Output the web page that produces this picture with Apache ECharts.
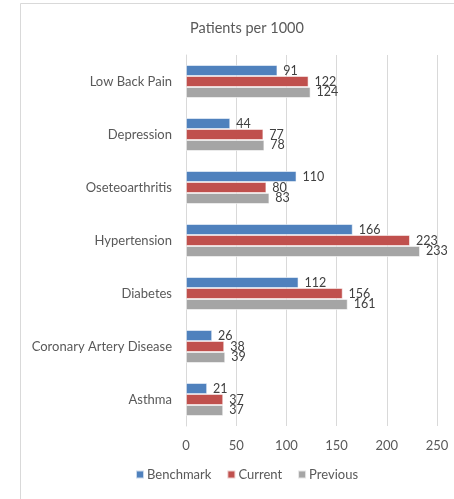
<!DOCTYPE html>
<html>
<head>
<meta charset="utf-8">
<script src="https://cdn.jsdelivr.net/npm/echarts@6/dist/echarts.min.js"></script>
<style>
  html, body { margin: 0; padding: 0; background: #fff; }
  #chart { width: 454px; height: 499px; }
</style>
</head>
<body>
<div id="chart"></div>
<script>
// Conditions, listed top to bottom
const categories = ['Low Back Pain', 'Depression', 'Oseteoarthritis', 'Hypertension', 'Diabetes', 'Coronary Artery Disease', 'Asthma'];
const benchmark = [91, 44, 110, 166, 112, 26, 21];
const current = [122, 77, 80, 223, 156, 38, 37];
const previous = [124, 78, 83, 233, 161, 39, 37];
const seriesNames = ['Benchmark', 'Current', 'Previous'];
const seriesColors = ['#4F81BD', '#C0504D', '#A5A5A5'];

const FONT = 'Lato, "Open Sans", sans-serif';
const chart = echarts.init(document.getElementById('chart'), null, { renderer: 'canvas' });

function barSeries(name, data, color) {
  return {
    name: name,
    type: 'bar',
    data: data,
    barGap: '0%',
    barCategoryGap: '38%',
    itemStyle: { color: color, borderColor: 'rgba(255,255,255,0.7)', borderWidth: 0.8 },
    label: {
      show: true,
      position: 'right',
      distance: 6,
      color: '#404040',
      fontSize: 12.5,
      fontFamily: FONT
    },
    emphasis: { disabled: true }
  };
}

chart.setOption({
  animation: false,
  backgroundColor: '#fff',
  textStyle: { fontFamily: FONT },
  graphic: [{
    type: 'rect',
    shape: { x: 20.5, y: 3.5, width: 460, height: 520 },
    style: { fill: 'none', stroke: '#D9D9D9', lineWidth: 1 },
    silent: true
  }],
  title: {
    text: 'Patients per 1000',
    left: 242,
    textAlign: 'center',
    top: 16,
    textStyle: { fontSize: 14.5, fontWeight: 'normal', color: '#595959', fontFamily: FONT }
  },
  legend: {
    data: seriesNames,
    bottom: 13,
    left: 130,
    itemWidth: 8,
    itemHeight: 8,
    itemGap: 15,
    icon: 'rect',
    textStyle: { fontSize: 13, color: '#595959', fontFamily: FONT, padding: [0, 0, 0, -2] }
  },
  grid: { left: 186, right: 17, top: 55, bottom: 73, containLabel: false },
  xAxis: {
    type: 'value',
    min: 0,
    max: 250,
    interval: 50,
    axisLine: { show: false },
    axisTick: { show: false },
    axisLabel: { color: '#595959', fontSize: 13, margin: 13, fontFamily: FONT },
    splitLine: { show: true, lineStyle: { color: '#D9D9D9', width: 1 } }
  },
  yAxis: {
    type: 'category',
    data: categories,
    inverse: true,
    axisLine: { show: true, lineStyle: { color: '#D9D9D9' } },
    axisTick: { show: false },
    axisLabel: { color: '#595959', fontSize: 13, margin: 14, fontFamily: FONT }
  },
  series: [
    barSeries(seriesNames[0], benchmark, seriesColors[0]),
    barSeries(seriesNames[1], current, seriesColors[1]),
    barSeries(seriesNames[2], previous, seriesColors[2])
  ]
});
</script>
</body>
</html>
